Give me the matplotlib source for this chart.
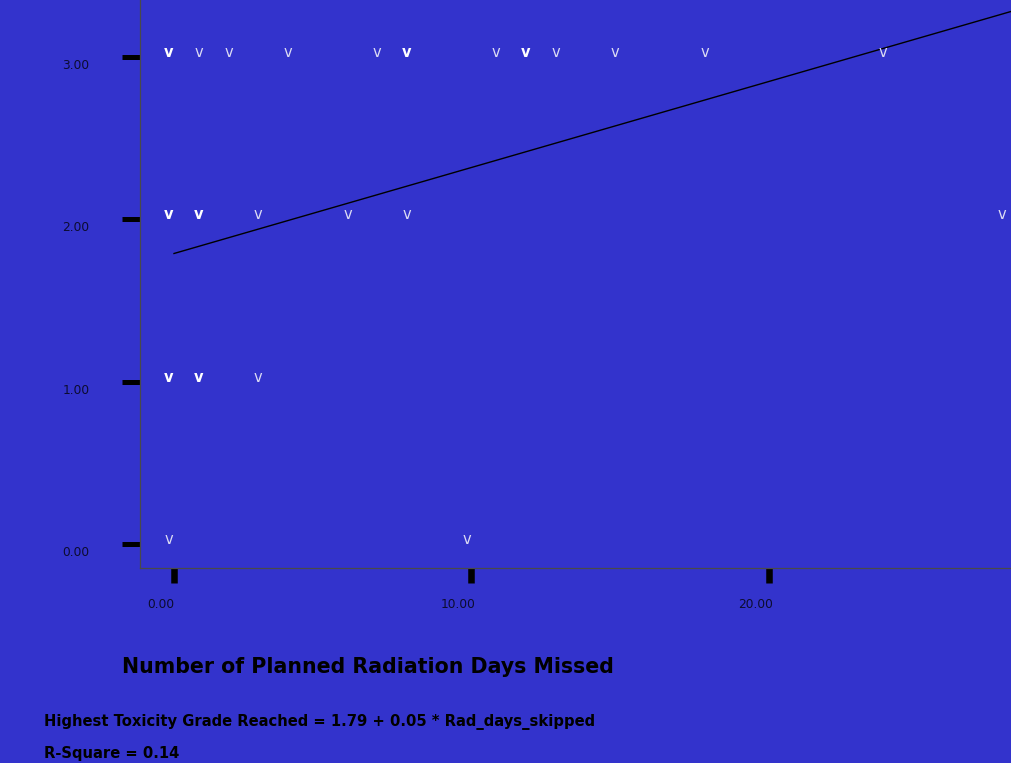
import matplotlib
matplotlib.use("Agg")
import matplotlib.pyplot as plt
from matplotlib.transforms import ScaledTranslation
from collections import Counter

plt.rcParams['font.family'] = ['DejaVu Sans']

# Radiation days skipped (x) and highest toxicity grade reached (y), one entry per patient
days_missed = [0, 0, 1, 2, 4, 7, 8, 8, 11, 12, 12, 13, 15, 18, 24,
               0, 0, 1, 1, 3, 6, 8, 28,
               0, 0, 1, 1, 3,
               0, 10]
tox_grade = [3, 3, 3, 3, 3, 3, 3, 3, 3, 3, 3, 3, 3, 3, 3,
             2, 2, 2, 2, 2, 2, 2, 2,
             1, 1, 1, 1, 1,
             0, 0]

fit_intercept = 1.79
fit_slope = 0.053
r_square = 0.14

x_ticks = [0, 10, 20]
y_ticks = [0, 1, 2, 3]

bg = '#3333cc'
W, H, DPI = 1012, 763, 100
fig = plt.figure(figsize=(W / DPI, H / DPI), dpi=DPI, facecolor=bg)
ax = fig.add_axes([139.5 / W, (H - 568) / H, 1 - 139.5 / W, 568 / H])
ax.set_facecolor(bg)
ax.set_xlim(-1.16, 28.17)
ax.set_ylim(-0.148, 3.352)

for side in ('top', 'right'):
    ax.spines[side].set_visible(False)
for side in ('left', 'bottom'):
    ax.spines[side].set_color('#4a4a4a')
    ax.spines[side].set_linewidth(0.9)

# Fitted regression line
x0, x1 = 0, 29
ax.plot([x0, x1], [fit_intercept + fit_slope * x0, fit_intercept + fit_slope * x1],
        color='black', lw=1.0, clip_on=True)

# Points drawn as "v" glyphs; repeated cases appear heavier
shift = ScaledTranslation(-0.05, 0, fig.dpi_scale_trans)
counts = Counter(zip(days_missed, tox_grade))
for (x, y), n in counts.items():
    if n > 1:
        ax.text(x, y, 'v', ha='center', va='baseline', fontsize=10.5, color='white',
                fontweight='bold', transform=ax.transData + shift)
    else:
        ax.text(x, y, 'v', ha='center', va='baseline', fontsize=10.5, color='#dcdcf4',
                transform=ax.transData + shift)

# Axis ticks
tick_color = '#0c0c30'
ax.set_xticks(x_ticks)
ax.set_xticklabels([f'{v:.2f}' for v in x_ticks], fontsize=8.8, color=tick_color)
ax.set_yticks(y_ticks)
ax.set_yticklabels([f'{v:.2f}' for v in y_ticks], fontsize=8.8, color=tick_color)
ax.tick_params(axis='x', length=10.8, width=4.7, color='black', direction='out', pad=11)
ax.tick_params(axis='y', length=13, width=3.6, color='black', direction='out', pad=23)
for lbl in ax.get_xticklabels():
    lbl.set_transform(lbl.get_transform() + ScaledTranslation(-0.135, 0, fig.dpi_scale_trans))
for lbl in ax.get_yticklabels():
    lbl.set_transform(lbl.get_transform() + ScaledTranslation(0, -0.07, fig.dpi_scale_trans))

# Axis title and fit summary
fig.text(122 / W, 1 - 667 / H, 'Number of Planned Radiation Days Missed',
         ha='left', va='center', fontsize=14.8, fontweight='bold', color='black')
fig.text(44 / W, 1 - 722 / H,
         f'Highest Toxicity Grade Reached = {fit_intercept:.2f} + {fit_slope:.2f} * Rad_days_skipped',
         ha='left', va='center', fontsize=10.6, fontweight='bold', color='black')
fig.text(44 / W, 1 - 761 / H, f'R-Square = {r_square:.2f}',
         ha='left', va='bottom', fontsize=10.6, fontweight='bold', color='black')

fig.savefig('out.png', dpi=DPI, facecolor=bg)
